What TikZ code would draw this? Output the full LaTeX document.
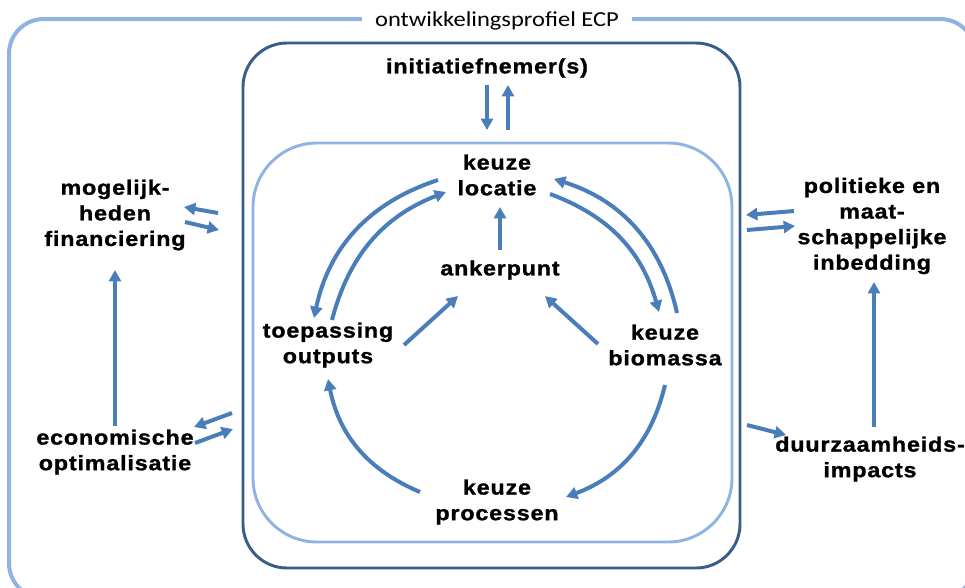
\documentclass[tikz,border=0pt]{standalone}
\usepackage{fontspec}
\setmainfont{Liberation Sans}
\newfontfamily\labfont[FakeStretch=1.12,LetterSpace=4,FakeBold=1.2]{Liberation Sans Bold}
\newfontfamily\titfont[FakeStretch=1.15]{Carlito}
\usetikzlibrary{arrows.meta}
\definecolor{lightb}{RGB}{141,180,226}
\definecolor{darkb}{RGB}{56,93,138}
\definecolor{arrb}{RGB}{74,126,187}
\tikzset{
  lab/.style={align=center,inner sep=1pt,font=\labfont\fontsize{15.6}{19.2}\selectfont},
  arr/.style={draw=arrb,line width=3pt,-{Triangle[length=8.5pt,width=9pt]}},
}
\begin{document}
\begin{tikzpicture}[x=0.75pt,y=-0.75pt]
\useasboundingbox (0,0) rectangle (965,587);
\clip (0,0) rectangle (965,587);
% frames
\draw[lightb,line width=3pt,rounded corners=26pt] (9,19) rectangle (975,598);
\draw[darkb,line width=2.2pt,rounded corners=33pt] (243,43) rectangle (740,568);
\draw[lightb,line width=2.2pt,rounded corners=48pt] (253,143) rectangle (732,542);
\node[fill=white,inner xsep=10pt,inner ysep=2pt,font=\titfont\fontsize{16}{19}\selectfont] (title) at (497,21) {ontwikkelingsprofiel ECP};
% nodes
\node[lab] (ini) at (487,68) {initiatiefnemer(s)};
\node[lab] (loc) at (497,175) {keuze\\locatie};
\node[lab] (ank) at (500,270) {ankerpunt};
\node[lab] (toe) at (328,345) {toepassing\\outputs};
\node[lab] (bio) at (665,345) {keuze\\biomassa};
\node[lab] (pro) at (497,502) {keuze\\processen};
\node[lab] (fin) at (115,215) {mogelijk-\\heden\\financiering};
\node[lab] (eco) at (115,452) {economische\\optimalisatie};
\node[lab] (pol) at (872,226) {politieke en\\maat-\\schappelijke\\inbedding};
\node[lab] (duu) at (870,459) {duurzaamheids-\\impacts};
% connector end points
\coordinate (iniA) at (487,85);  \coordinate (iniB) at (487,130);
\coordinate (iniC) at (508,130); \coordinate (iniD) at (508,85);
\coordinate (ankT) at (500,250); \coordinate (locB) at (500,207);
\coordinate (toeR) at (404,345); \coordinate (ankL) at (458,296);
\coordinate (bioL) at (598,344); \coordinate (ankR) at (545,296);
\coordinate (locL1) at (438,180); \coordinate (toeT1) at (314,318);
\coordinate (toeT2) at (332,320); \coordinate (locL2) at (446,192);
\coordinate (locR1) at (550,194); \coordinate (bioT1) at (659,312);
\coordinate (bioT2) at (677,313); \coordinate (locR2) at (554,179);
\coordinate (bioB) at (665,385); \coordinate (proR) at (566,497);
\coordinate (proL) at (420,492); \coordinate (toeB) at (328,379);
\coordinate (finA) at (218,213); \coordinate (finB) at (184,207);
\coordinate (finC) at (185,222); \coordinate (finD) at (219,230);
\coordinate (ecoA) at (232,413); \coordinate (ecoB) at (194,427);
\coordinate (ecoC) at (195,443); \coordinate (ecoD) at (233,429);
\coordinate (ecoT) at (115,426); \coordinate (finBot) at (115,270);
\coordinate (polA) at (794,211); \coordinate (polB) at (746,215);
\coordinate (polC) at (747,230); \coordinate (polD) at (795,226);
\coordinate (duuA) at (747,425); \coordinate (duuB) at (786,435);
\coordinate (duuT) at (874,427); \coordinate (polBot) at (874,282);
% connectors
\draw[arr] (iniA) -- (iniB);
\draw[arr] (iniC) -- (iniD);
\draw[arr] (ankT) -- (locB);
\draw[arr] (toeR) -- (ankL);
\draw[arr] (bioL) -- (ankR);
\draw[arr] (locL1) to[bend right=30] (toeT1);
\draw[arr] (toeT2) to[bend left=27] (locL2);
\draw[arr] (locR1) to[bend left=27] (bioT1);
\draw[arr] (bioT2) to[bend right=30] (locR2);
\draw[arr] (bioB) to[bend left=28] (proR);
\draw[arr] (proL) to[bend left=28] (toeB);
\draw[arr] (finA) -- (finB);
\draw[arr] (finC) -- (finD);
\draw[arr] (ecoA) -- (ecoB);
\draw[arr] (ecoC) -- (ecoD);
\draw[arr] (ecoT) -- (finBot);
\draw[arr] (polA) -- (polB);
\draw[arr] (polC) -- (polD);
\draw[arr] (duuA) -- (duuB);
\draw[arr] (duuT) -- (polBot);
\end{tikzpicture}
\end{document}
